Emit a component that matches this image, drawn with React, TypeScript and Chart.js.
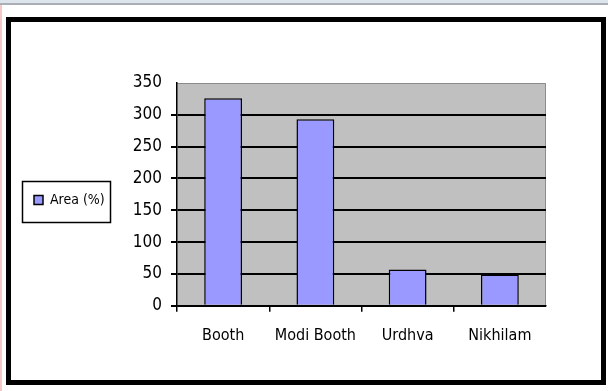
import React, { useEffect, useRef } from "react";
import { Chart, registerables } from "chart.js";

Chart.register(...registerables);

const categories = ["Booth", "Modi Booth", "Urdhva", "Nikhilam"];
const areaValues = [326, 293, 57, 49];
const seriesLabel = "Area (%)";
const yTicks = [0, 50, 100, 150, 200, 250, 300, 350];

const FONT = "'DejaVu Sans Condensed', 'DejaVu Sans', sans-serif";
const PAD_LEFT = 24;
const PLOT_LEFT = 177;

const plotBg = {
  id: "plotBg",
  beforeDraw(chart: any) {
    const { ctx, chartArea } = chart;
    if (!chartArea) return;
    ctx.save();
    ctx.fillStyle = "#c0c0c0";
    ctx.fillRect(chartArea.left, chartArea.top, chartArea.right - chartArea.left, chartArea.bottom - chartArea.top);
    ctx.strokeStyle = "#8c8c8c";
    ctx.lineWidth = 1;
    ctx.beginPath();
    ctx.moveTo(chartArea.left, chartArea.top + 0.5);
    ctx.lineTo(chartArea.right - 0.5, chartArea.top + 0.5);
    ctx.lineTo(chartArea.right - 0.5, chartArea.bottom);
    ctx.stroke();
    ctx.restore();
  },
};

const legendBorder = {
  id: "legendBorder",
  afterDraw(chart: any) {
    const lg = chart.legend;
    if (!lg || !lg.legendHitBoxes || !lg.legendHitBoxes.length) return;
    const hb = lg.legendHitBoxes[0];
    const { ctx } = chart;
    ctx.save();
    ctx.strokeStyle = "#000";
    ctx.lineWidth = 1.5;
    const x = hb.left - 12;
    const y = hb.top - 12;
    const w = hb.width + 17;
    const h = hb.height + 27;
    ctx.strokeRect(Math.round(x) + 0.5, Math.round(y) + 0.5, Math.round(w), Math.round(h));
    ctx.restore();
  },
};

export default function App() {
  const ref = useRef<HTMLCanvasElement | null>(null);

  useEffect(() => {
    document.body.style.margin = "0";
    const canvas = ref.current;
    if (!canvas) return;
    const chart = new Chart(canvas, {
      type: "bar",
      data: {
        labels: categories,
        datasets: [
          {
            label: seriesLabel,
            data: areaValues,
            backgroundColor: "#9999ff",
            borderColor: "#000000",
            borderWidth: 1.5,
            borderSkipped: "bottom",
            barPercentage: 0.41,
            categoryPercentage: 1,
          },
        ],
      },
      options: {
        animation: false,
        responsive: false,
        maintainAspectRatio: false,
        layout: { padding: { left: PAD_LEFT, top: 83, right: 62, bottom: 32 } },
        plugins: {
          legend: {
            position: "left",
            align: "start",
            title: {
              display: true,
              text: "",
              font: { size: 10, lineHeight: 1 },
              padding: { top: 90, bottom: 0 },
            },
            labels: {
              boxWidth: 9,
              boxHeight: 9,
              padding: 10,
              color: "#000",
              font: { family: FONT, size: 14 },
            },
          },
          tooltip: { enabled: false },
        },
        scales: {
          x: {
            offset: true,
            grid: {
              display: true,
              offset: true,
              drawOnChartArea: false,
              drawTicks: true,
              tickLength: 6,
              color: (c: any) => (c.type === "tick" ? "#000" : "rgba(0,0,0,0)"),
              lineWidth: 1.5,
            },
            border: { display: true, color: "#000", width: 1.5 },
            ticks: {
              color: "#000",
              padding: 14,
              autoSkip: false,
              font: { family: FONT, size: 16 },
              maxRotation: 0,
            },
          },
          y: {
            min: 0,
            max: 350,
            afterBuildTicks(scale: any) {
              scale.ticks = yTicks.map((v) => ({ value: v }));
            },
            afterFit(scale: any) {
              const lg = scale.chart.legend;
              const lw = lg && lg.width ? lg.width : 0;
              scale.width = PLOT_LEFT - PAD_LEFT - lw;
            },
            grid: {
              color: (c: any) => (c.tick && c.tick.value === 350 ? "rgba(0,0,0,0)" : "#000"),
              lineWidth: 2,
              drawTicks: true,
              tickLength: 6,
            },
            border: { display: true, color: "#000", width: 1.5 },
            ticks: {
              color: "#000",
              padding: 9,
              font: { family: FONT, size: 17 },
            },
          },
        },
      },
      plugins: [plotBg, legendBorder],
    });
    return () => chart.destroy();
  }, []);

  return (
    <div style={{ position: "relative", width: 608, height: 391, background: "#fff", overflow: "hidden" }}>
      <div style={{ position: "absolute", left: 0, top: 0, width: 608, height: 3, background: "#dde4ec" }} />
      <div style={{ position: "absolute", left: 0, top: 3, width: 608, height: 2, background: "#a9afb5" }} />
      <div style={{ position: "absolute", left: 0, top: 5, width: 2, height: 386, background: "#f4c8c8" }} />
      <div
        style={{
          position: "absolute",
          left: 6,
          top: 17,
          width: 600,
          height: 368,
          boxSizing: "border-box",
          border: "5px solid #000",
        }}
      />
      <canvas ref={ref} width={608} height={391} style={{ position: "absolute", left: 0, top: 0, width: 608, height: 391 }} />
    </div>
  );
}
